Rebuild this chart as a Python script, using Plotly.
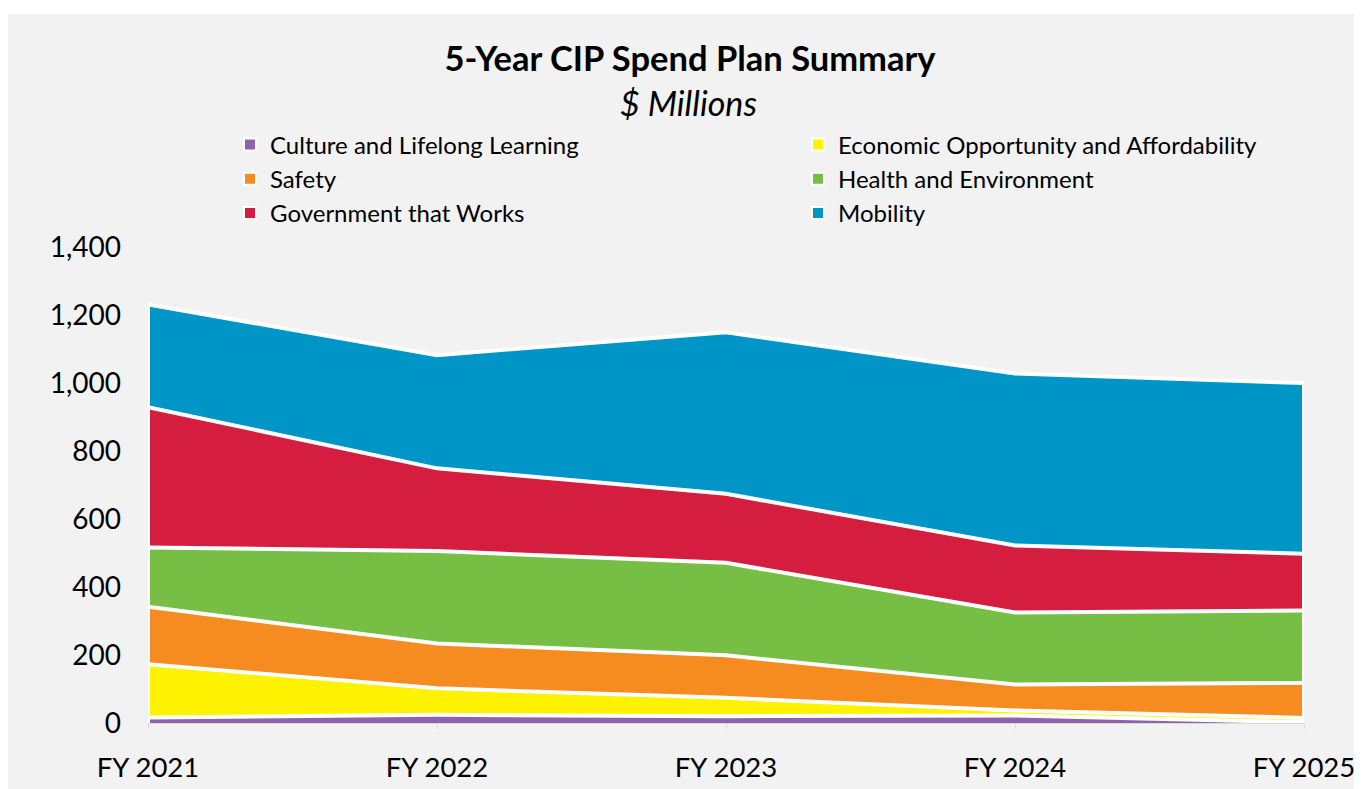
import plotly.graph_objects as go

# Fiscal years on the x axis
years = ["FY 2021", "FY 2022", "FY 2023", "FY 2024", "FY 2025"]

# Spend per outcome area, $ millions
culture = [16, 24, 20, 22, 2]
economic = [157, 78, 54, 15, 13]
safety = [169, 132, 125, 76, 103]
health = [174, 272, 272, 212, 213]
government = [413, 243, 203, 197, 167]
mobility = [302, 333, 475, 506, 502]

# name, values, colour, legend column
series = [
    ("Culture and Lifelong Learning", culture, "#8e63ad", "legend"),
    ("Economic Opportunity and Affordability", economic, "#fff200", "legend2"),
    ("Safety", safety, "#f68b1f", "legend"),
    ("Health and Environment", health, "#76bf44", "legend2"),
    ("Government that Works", government, "#d51d40", "legend"),
    ("Mobility", mobility, "#0095c7", "legend2"),
]

totals = [sum(vals) for vals in zip(*[s[1] for s in series])]

FONT = "Lato"
BG = "#f2f2f2"
OFF = 8  # the page body margin shifts the figure by this much
W, H = 1362 - OFF, 789 - OFF
# plot area wanted at page x 148..1304, y 247..723
L, R, T, B = 148 - OFF, W - (1304 - OFF), 247 - OFF, H - (723 - OFF)
PW, PH = W - L - R, H - T - B


def px_x(x):
    # page pixel x -> paper fraction
    return (x - OFF - L) / PW


def px_y(y):
    # page pixel y -> paper fraction
    return (H - B - (y - OFF)) / PH


fig = go.Figure()

# Stacked areas with white borders, like the Excel original
for name, vals, color, _ in series:
    fig.add_trace(go.Scatter(
        x=years, y=vals, name=name,
        stackgroup="cip", mode="lines",
        line=dict(color="white", width=4),
        fillcolor=color, showlegend=False,
    ))

# White edges at both ends of the stack
for i in (0, len(years) - 1):
    fig.add_trace(go.Scatter(
        x=[years[i], years[i]], y=[0, totals[i]], mode="lines",
        line=dict(color="white", width=4), showlegend=False,
        hoverinfo="skip",
    ))

# Small square legend markers, split over two columns
for name, vals, color, leg in series:
    fig.add_trace(go.Scatter(
        x=[None], y=[None], name=name, mode="markers", legend=leg,
        marker=dict(symbol="square", size=12, color=color,
                    line=dict(color="white", width=2)),
    ))

legend_style = dict(orientation="v", traceorder="normal",
                    yanchor="middle", y=px_y(179), xanchor="left",
                    font=dict(size=24, family=FONT),
                    bgcolor="rgba(0,0,0,0)", itemwidth=30)

fig.update_layout(
    width=W, height=H,
    paper_bgcolor=BG, plot_bgcolor=BG,
    font=dict(family=FONT, color="black"),
    margin=dict(l=L, r=R, t=T, b=B, autoexpand=False),
    title=dict(text="<b>5-Year CIP Spend Plan Summary</b>",
               font=dict(size=34.5, family=FONT),
               xref="container", x=(690 - OFF) / W, xanchor="center",
               yref="container", y=1 - (60 - OFF - 1) / H,
               yanchor="middle"),
    annotations=[dict(text="<i>$ Millions</i>", showarrow=False,
                      xref="paper", yref="paper",
                      x=px_x(688), y=px_y(103),
                      xanchor="center", yanchor="middle",
                      font=dict(size=34, family=FONT))],
    # white strip along the top edge, as in the original export
    shapes=[dict(type="rect", xref="paper", yref="paper",
                 x0=px_x(OFF), x1=px_x(1362), y0=px_y(OFF), y1=px_y(14),
                 fillcolor="white", line_width=0, layer="below")],
    legend=dict(legend_style, x=px_x(230)),
    legend2=dict(legend_style, x=px_x(798)),
    xaxis=dict(type="category", range=[0, len(years) - 1],
               showgrid=False, zeroline=False, automargin=False,
               showline=True, linecolor="#d9d9d9", linewidth=1,
               ticks="outside", tickcolor="#d9d9d9", ticklen=5,
               ticklabelstandoff=15,
               tickfont=dict(size=27.5, family=FONT)),
    yaxis=dict(range=[0, 1400], dtick=200, tickformat=",",
               showgrid=False, zeroline=False, showline=False,
               automargin=False, ticklabelstandoff=26,
               tickfont=dict(size=28, family=FONT)),
)

fig.write_html("out.html")
